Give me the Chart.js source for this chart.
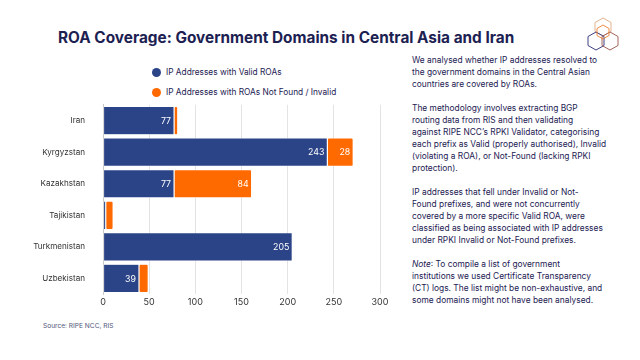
<!DOCTYPE html>
<html>
<head>
<meta charset="utf-8">
<script src="https://cdn.jsdelivr.net/npm/chart.js"></script>
<style>
  html,body{margin:0;padding:0;background:#fff;}
  body{width:640px;height:360px;position:relative;overflow:hidden;font-family:Inter,"Noto Sans",sans-serif;color:#1c2152;}
  #title{position:absolute;left:58px;top:28px;font-size:15.35px;font-weight:700;white-space:nowrap;}
  #legend{position:absolute;left:152px;top:66px;font-size:8.3px;color:#1c2152;}
  .li{display:flex;align-items:center;height:12px;margin-bottom:8px;}
  .dot{width:9px;height:9px;border-radius:50%;margin-right:5px;}
  #chartWrap{position:absolute;left:0;top:90px;width:400px;height:223px;}
  #text{position:absolute;left:412px;top:54px;font-size:8.4px;line-height:12px;color:#1c2152;white-space:nowrap;}
  #text p{margin:0 0 12px 0;}
  #source{position:absolute;left:43px;top:322px;font-size:6.6px;color:#50557a;}
  #logo{position:absolute;left:581px;top:12px;}
</style>
</head>
<body>
<div id="title">ROA Coverage: Government Domains in Central Asia and Iran</div>
<svg id="logo" width="44" height="44" viewBox="0 0 44 44">
  <polygon points="22,6 30,10.5 30,19.5 22,24 14,19.5 14,10.5" fill="none" stroke="#e3b28e" stroke-width="1"/>
  <polygon points="15,20 23,24.5 23,33.5 15,38 7,33.5 7,24.5" fill="none" stroke="#3d3f82" stroke-width="1"/>
  <polygon points="29,20 37,24.5 37,33.5 29,38 21,33.5 21,24.5" fill="none" stroke="#a4645a" stroke-width="1"/>
  <polygon points="22,13 28,16.5 28,23.5 22,27 16,23.5 16,16.5" fill="none" stroke="#f07f2e" stroke-width="0.9"/>
</svg>
<div id="legend"></div>
<div id="chartWrap"><canvas id="c" width="400" height="223"></canvas></div>
<div id="text">
<p>We analysed whether IP addresses resolved to<br>the government domains in the Central Asian<br>countries are covered by ROAs.</p>
<p>The methodology involves extracting BGP<br>routing data from RIS and then validating<br>against RIPE NCC’s RPKI Validator, categorising<br>each prefix as Valid (properly authorised), Invalid<br>(violating a ROA), or Not-Found (lacking RPKI<br>protection).</p>
<p>IP addresses that fell under Invalid or Not-<br>Found prefixes, and were not concurrently<br>covered by a more specific Valid ROA, were<br>classified as being associated with IP addresses<br>under RPKI Invalid or Not-Found prefixes.</p>
<p><i>Note</i>: To compile a list of government<br>institutions we used Certificate Transparency<br>(CT) logs. The list might be non-exhaustive, and<br>some domains might not have been analysed.</p>
</div>
<div id="source">Source: RIPE NCC, RIS</div>
<script>
const categories = ["Iran","Kyrgyzstan","Kazakhstan","Tajikistan","Turkmenistan","Uzbekistan"];
const validROAs = [77, 243, 77, 3, 205, 39];
const notFoundInvalid = [4, 28, 84, 8, 1, 10];
const seriesNames = ["IP Addresses with Valid ROAs","IP Addresses with ROAs Not Found / Invalid"];
const colors = ["#2b4488","#ff6a00"];
const xTicks = [0,50,100,150,200,250,300];

const lg = document.getElementById('legend');
seriesNames.forEach((n,i)=>{
  const d=document.createElement('div');d.className='li';
  d.innerHTML='<span class="dot" style="background:'+colors[i]+'"></span><span>'+n+'</span>';
  lg.appendChild(d);
});

const labelPlugin = {
  id:'barLabels',
  afterDatasetsDraw(chart){
    const ctx=chart.ctx;
    ctx.save();
    ctx.font='8.8px Inter, "Noto Sans", sans-serif';
    ctx.fillStyle='#ffffff';
    ctx.textAlign='right';
    ctx.textBaseline='middle';
    chart.data.datasets.forEach((ds,di)=>{
      const meta=chart.getDatasetMeta(di);
      meta.data.forEach((bar,i)=>{
        const v=ds.data[i];
        if(v>=20){
          ctx.fillText(String(v), bar.x-3, bar.y+0.5);
        }
      });
    });
    ctx.restore();
  }
};

new Chart(document.getElementById('c'),{
  type:'bar',
  data:{
    labels:categories,
    datasets:[
      {label:seriesNames[0],data:validROAs,backgroundColor:colors[0],borderColor:'#ffffff',borderWidth:0.6,borderRadius:1.5,borderSkipped:false,barPercentage:0.9,categoryPercentage:1.0},
      {label:seriesNames[1],data:notFoundInvalid,backgroundColor:colors[1],borderColor:'#ffffff',borderWidth:0.6,borderRadius:1.5,borderSkipped:false,barPercentage:0.9,categoryPercentage:1.0}
    ]
  },
  options:{
    indexAxis:'y',
    responsive:false,
    animation:false,
    devicePixelRatio:1,
    layout:{padding:{top:0,right:20,left:0,bottom:2}},
    plugins:{legend:{display:false},tooltip:{enabled:false}},
    scales:{
      x:{
        stacked:true,min:0,max:300,
        afterBuildTicks(axis){axis.ticks=xTicks.map(v=>({value:v}));},
        grid:{color:'#e3e3e3',drawTicks:false,lineWidth:1},
        border:{display:false},
        ticks:{color:'#333',font:{size:9,family:'Inter, "Noto Sans", sans-serif'},padding:3}
      },
      y:{
        stacked:true,
        afterFit(axis){axis.width=103;},
        grid:{display:false},
        border:{display:true,color:'#c8c8c8'},
        ticks:{color:'#333',font:{size:8.1,family:'Inter, "Noto Sans", sans-serif'},padding:10}
      }
    }
  },
  plugins:[labelPlugin]
});
</script>
</body>
</html>
